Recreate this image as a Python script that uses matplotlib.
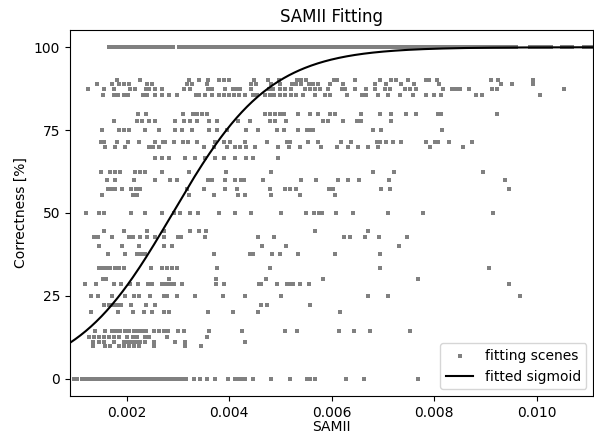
import matplotlib
matplotlib.use("Agg")
import matplotlib.pyplot as plt
import numpy as np

# SAMII values in units of 1e-3, one list per correctness level [%]
x_100 = [1.65, 1.70, 1.76, 1.81, 1.86, 1.92, 1.97, 2.03, 2.08, 2.14, 2.19, 2.25, 2.30, 2.36,
         2.41, 2.47, 2.52, 2.58, 2.63, 2.69, 2.74, 2.80, 2.85, 2.91,
         3.02, 3.08, 3.13, 3.19, 3.25, 3.30, 3.36, 3.42, 3.47, 3.53, 3.59, 3.64, 3.70, 3.76,
         3.81, 3.87, 3.93, 3.98, 4.04, 4.10, 4.15, 4.21, 4.27, 4.32, 4.38, 4.44, 4.49, 4.55,
         4.61, 4.66, 4.72, 4.78, 4.83, 4.89, 4.95, 5.00, 5.06, 5.12, 5.17, 5.23, 5.29, 5.34,
         5.40, 5.46, 5.51, 5.57, 5.63, 5.68, 5.74, 5.80, 5.85, 5.91, 5.97, 6.02, 6.08, 6.14,
         6.19, 6.25, 6.31, 6.36, 6.42, 6.48, 6.53, 6.59, 6.65, 6.70, 6.76, 6.82, 6.87, 6.93,
         6.99, 7.04, 7.10, 7.16, 7.21, 7.27, 7.33, 7.38, 7.44, 7.50, 7.55, 7.61, 7.67, 7.72,
         7.78, 7.84, 7.89, 7.95, 8.01, 8.06, 8.12, 8.18, 8.23, 8.29, 8.35, 8.40, 8.46, 8.52,
         8.57, 8.63, 8.69, 8.74, 8.80, 8.86, 8.91, 8.97, 9.03, 9.08, 9.14, 9.20, 9.25, 9.31,
         9.37, 9.42, 9.48, 9.54, 9.59, 9.86, 9.93, 10.00, 10.07, 10.14, 10.21, 10.27, 10.49,
         10.56, 10.63, 10.68, 10.93, 10.99, 11.05]
x_90 = [1.811, 2.265, 3.210, 3.405, 3.580, 3.795, 3.904, 3.990, 4.478, 4.757, 4.966, 5.323,
        5.407, 5.493, 6.039, 6.109, 6.449, 6.937, 7.163, 7.260, 7.489, 7.846, 7.898, 8.049,
        9.102, 9.251, 9.928]
x_889 = [1.420, 1.713, 1.856, 1.941, 2.039, 2.396, 2.494, 3.177, 3.274, 3.567, 4.431, 4.529,
         4.821, 4.985, 5.225, 5.309, 5.407, 5.551, 5.635, 5.733, 5.961, 6.220, 6.839, 7.065,
         7.358, 7.612, 8.094, 9.298, 9.524, 9.934]
x_875 = [1.245, 1.551, 1.746, 2.070, 2.168, 2.377, 2.441, 2.558, 2.689, 3.112, 3.241, 3.580,
         3.664, 3.924, 4.068, 4.152, 4.205, 4.431, 4.771, 4.855, 4.997, 5.095, 5.212, 5.485,
         5.571, 5.668, 5.766, 5.928, 6.201, 6.265, 6.449, 6.675, 6.839, 7.034, 7.132, 7.436,
         7.522, 7.640, 8.172, 8.353, 8.431, 8.504, 8.679, 9.134, 9.231, 10.533]
x_857 = [1.532, 1.758, 1.824, 1.953, 2.025, 2.312, 2.396, 2.558, 2.689, 2.820, 2.981, 3.352,
         3.417, 3.534, 3.664, 3.807, 3.893, 4.002, 4.088, 4.185, 4.302, 4.464, 4.548, 4.693,
         4.802, 4.874, 4.997, 5.083, 5.212, 5.309, 5.440, 5.668, 5.875, 5.973, 6.299, 6.591,
         6.675, 6.903, 7.099, 7.327, 7.580, 7.846, 7.996, 8.127, 8.821, 8.939, 10.064]
x_80 = [2.220, 2.377, 3.093, 3.294, 3.372, 3.469, 3.567, 4.704, 4.790, 4.888, 4.997, 5.069,
        5.342, 5.571, 5.733, 5.973, 6.070, 6.578, 6.937, 7.163, 7.456, 7.650, 8.074, 8.127,
        9.220]
x_778 = [1.746, 2.201, 2.299, 2.441, 2.546, 2.948, 3.112, 3.241, 3.372, 3.600, 3.762, 4.172,
         4.400, 4.802, 4.888, 5.114, 5.830, 5.928, 6.220, 6.494, 6.578, 7.163]
x_75 = [1.518, 1.856, 1.941, 2.039, 2.363, 2.624, 2.948, 3.079, 3.274, 3.600, 3.762, 3.957,
        4.334, 4.562, 4.933, 5.063, 5.342, 5.518, 5.571, 5.635, 6.806, 6.968, 8.146]
x_714 = [1.499, 1.551, 1.811, 2.020, 2.234, 2.558, 2.702, 2.753, 2.917, 3.093, 3.196, 3.372,
         3.729, 3.893, 4.021, 4.302, 4.743, 5.128, 5.192, 5.538, 5.733, 6.187, 6.382, 6.884,
         6.948, 7.065, 7.196, 7.358, 7.846, 8.021, 8.074, 8.289, 8.743]
x_70 = [1.582, 1.778, 1.973, 2.441, 2.507, 2.624, 3.502, 3.698, 3.957, 4.119, 4.205, 4.334,
        4.498, 4.952, 5.161, 5.376, 5.797, 6.103, 6.318, 6.513, 6.708, 6.903, 7.918, 8.568]
x_667 = [2.546, 2.689, 2.820, 3.143, 3.339, 3.534, 3.729, 3.893, 4.119, 4.334, 4.464, 4.952]
x_625 = [1.504, 1.680, 1.778, 1.875, 2.168, 2.265, 2.363, 2.689, 3.210, 3.938, 4.821, 6.806,
         7.216, 8.958]
x_60 = [1.616, 1.778, 2.137, 2.558, 2.851, 2.981, 3.580, 3.664, 3.924, 4.119, 4.224, 4.289,
        4.660, 5.407, 5.688, 6.123, 6.318, 6.527, 7.112, 9.382]
x_571 = [1.629, 1.713, 1.778, 1.908, 2.084, 2.182, 2.265, 3.177, 3.502, 3.924, 4.152, 4.790,
         5.095, 5.180, 5.309, 5.941, 6.025, 6.968, 7.132, 9.460]
x_556 = [1.518, 2.117, 2.201, 3.210, 3.698, 4.170, 4.314, 4.821, 5.376, 6.059]
x_50 = [1.206, 1.454, 1.551, 2.084, 2.363, 2.689, 2.917, 3.046, 3.241, 3.391, 3.795, 4.107,
        4.420, 5.017, 5.504, 5.655, 5.746, 5.811, 6.090, 6.416, 7.099, 7.787, 9.153]
x_444 = [1.551, 1.941, 2.396, 2.722, 3.241, 3.405, 3.547, 5.668, 6.708]
x_429 = [1.368, 1.440, 1.713, 2.051, 2.123, 2.265, 2.396, 2.558, 2.722, 2.995, 3.060, 3.534,
         4.562, 4.874, 6.240, 6.351, 6.644, 6.929, 7.475]
x_40 = [1.454, 1.908, 2.246, 2.722, 2.884, 4.640, 5.114, 7.313]
x_375 = [1.629, 1.973, 2.201, 2.279, 2.363, 3.709, 4.400, 4.464, 4.841, 4.985, 5.342, 6.059,
         6.948]
x_333 = [1.454, 1.532, 1.616, 1.680, 1.778, 1.856, 1.941, 2.480, 2.689, 2.786, 2.884, 2.981,
         3.762, 4.802, 6.948, 9.075]
x_30 = [1.532, 1.602, 2.831, 3.748, 4.724, 5.830, 7.684]
x_286 = [1.192, 1.401, 1.746, 1.895, 2.070, 2.220, 2.416, 2.494, 2.689, 2.767, 2.851, 2.917,
         3.079, 3.742, 3.893, 4.576, 4.626, 4.933, 5.134, 5.192, 5.251, 5.387, 5.557, 9.460]
x_25 = [1.309, 1.440, 1.713, 1.973, 2.137, 2.246, 2.460, 2.722, 2.786, 2.981, 3.327, 3.879,
        4.314, 5.005, 6.708, 7.099, 9.674]
x_222 = [1.551, 1.649, 1.733, 1.811, 1.895, 2.084, 2.382, 2.558, 4.615, 4.732, 5.582]
x_20 = [1.309, 1.830, 2.123, 2.332, 2.494, 2.722, 2.820, 3.580, 4.074, 4.562, 6.168]
x_143 = [1.387, 1.571, 1.713, 1.791, 1.875, 1.961, 2.039, 2.137, 2.220, 2.299, 2.377, 2.527,
         2.624, 2.722, 2.806, 3.001, 3.112, 3.600, 4.250, 5.095, 5.329, 6.137, 6.429, 6.741,
         7.534]
x_125 = [1.270, 1.356, 1.454, 1.551, 1.649, 1.746, 1.844, 2.006, 2.117, 2.201, 2.363, 2.441,
         2.786, 3.567]
x_111 = [1.342, 1.465, 1.551, 1.746, 1.941, 2.020, 2.103, 2.182, 2.254, 2.363, 2.527, 2.948,
         3.143, 4.314]
x_10 = [1.337, 1.582, 1.680, 1.844, 1.941, 2.039, 2.137, 2.234, 2.527, 3.143, 3.456]
x_0 = [0.966, 1.030, 1.128, 1.16, 1.20, 1.25, 1.29, 1.34, 1.38, 1.43, 1.47, 1.52, 1.56, 1.61,
       1.65, 1.70, 1.74, 1.79, 1.83, 1.88, 1.92, 1.97, 2.01, 2.06, 2.10, 2.15, 2.19, 2.24, 2.28,
       2.33, 2.37, 2.42, 2.46, 2.51, 2.55, 2.60, 2.64, 2.69, 2.73, 2.78, 2.82, 2.87, 2.948,
       3.015, 3.079, 3.157, 3.307, 3.436, 3.567, 3.717, 3.971, 4.119, 4.172, 4.236, 4.314,
       4.464, 4.821, 5.192, 5.518, 5.582, 5.668, 6.273, 6.630, 7.684]

levels = [
    (100, x_100), (90, x_90), (800 / 9, x_889), (87.5, x_875), (600 / 7, x_857), (80, x_80),
    (700 / 9, x_778), (75, x_75), (500 / 7, x_714), (70, x_70), (200 / 3, x_667), (62.5, x_625),
    (60, x_60), (400 / 7, x_571), (500 / 9, x_556), (50, x_50), (400 / 9, x_444),
    (300 / 7, x_429), (40, x_40), (37.5, x_375), (100 / 3, x_333), (30, x_30), (200 / 7, x_286),
    (25, x_25), (200 / 9, x_222), (20, x_20), (100 / 7, x_143), (12.5, x_125), (100 / 9, x_111),
    (10, x_10), (0, x_0),
]

# fitted sigmoid parameters
SIG_X0 = 0.0029
SIG_K = 1050.0
X_MIN, X_MAX = 0.000894, 0.011104

samii = np.concatenate([np.array(xs) * 1e-3 for _, xs in levels])
correct = np.concatenate([np.full(len(xs), lvl) for lvl, xs in levels])

fig = plt.figure(figsize=(5.94, 4.34), dpi=100)
ax = fig.add_axes([0.1178, 0.0875, 0.8811, 0.8435])

ax.scatter(samii, correct, s=6, c="gray", marker="s", linewidths=0, label="fitting scenes")
xs = np.linspace(X_MIN, X_MAX, 400)
ax.plot(xs, 100 / (1 + np.exp(-SIG_K * (xs - SIG_X0))), color="black", label="fitted sigmoid")

ax.set_xlim(X_MIN, X_MAX)
ax.set_ylim(-5.2, 105.2)
ax.set_xticks([0.002, 0.004, 0.006, 0.008, 0.010])
ax.set_yticks([0, 25, 50, 75, 100])
ax.set_xlabel("SAMII", labelpad=0.5)
ax.set_ylabel("Correctness [%]")
ax.set_title("SAMII Fitting")
ax.legend(loc="lower right")

fig.savefig("out.png", dpi=100)
